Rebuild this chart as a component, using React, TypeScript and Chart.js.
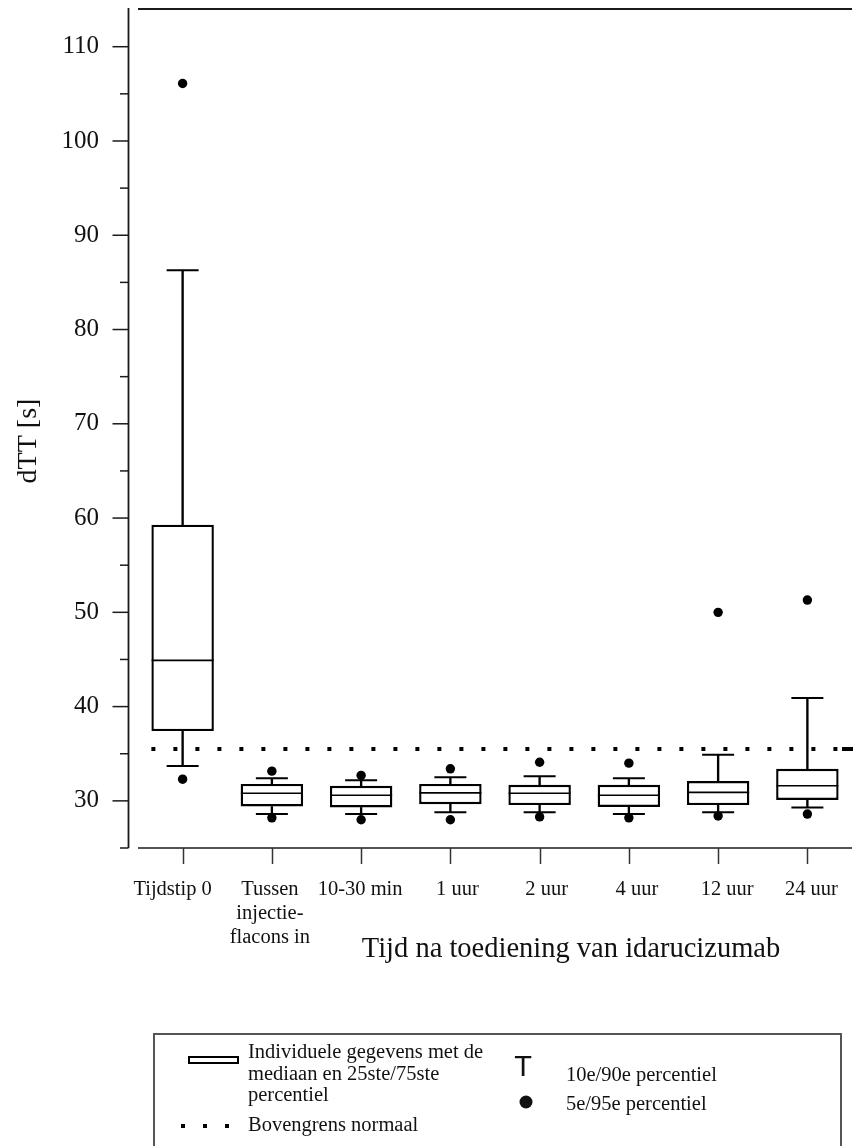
import React, { useEffect, useRef } from "react";
import { Chart, registerables } from "chart.js";

Chart.register(...registerables);

// ---- data ----
const categories: (string | string[])[] = [
  "Tijdstip 0",
  ["Tussen", "injectie-", "flacons in"],
  "10-30 min",
  "1 uur",
  "2 uur",
  "4 uur",
  "12 uur",
  "24 uur",
];
const p5 = [32.3, 28.2, 28.0, 28.0, 28.3, 28.2, 28.4, 28.6];
const p10 = [33.7, 28.6, 28.6, 28.8, 28.8, 28.6, 28.8, 29.3];
const q1 = [37.4, 29.4, 29.3, 29.65, 29.55, 29.35, 29.55, 30.1];
const median = [44.9, 30.8, 30.6, 30.85, 30.8, 30.6, 30.9, 31.6];
const q3 = [59.3, 31.8, 31.6, 31.8, 31.7, 31.7, 32.1, 33.4];
const p90 = [86.3, 32.4, 32.2, 32.5, 32.6, 32.4, 34.9, 40.9];
const p95 = [106.1, 33.15, 32.7, 33.4, 34.1, 34.0, 50.0, 51.3];
const upperNormal = 35.5;
const yMajorTicks = [30, 40, 50, 60, 70, 80, 90, 100, 110];
const yMinorTicks = [25, 35, 45, 55, 65, 75, 85, 95, 105];
const yTitle = "dTT [s]";
const xTitle = "Tijd na toediening van idarucizumab";
const legendBoxText = ["Individuele gegevens met de", "mediaan en 25ste/75ste", "percentiel"];
const legendLineText = "Bovengrens normaal";
const legendWhiskerText = "10e/90e percentiel";
const legendDotText = "5e/95e percentiel";

// ---- styling ----
const SERIF = '"Liberation Serif", "Times New Roman", serif';
const SANS = '"Liberation Sans", Arial, sans-serif';
// small horizontal nudges of the category labels, as in the original typesetting
const LABEL_NUDGE = [-10, -2, -1, 7, 7, 8, 9, 4];

export default function App() {
  const ref = useRef<HTMLCanvasElement>(null);

  useEffect(() => {
    const canvas = ref.current;
    if (!canvas) return;

    const decor = {
      id: "decor",
      beforeDatasetsDraw(chart: any) {
        const { ctx, chartArea, scales } = chart;
        const x = scales.x;
        const y = scales.y;
        ctx.save();
        ctx.strokeStyle = "#1a1a1a";
        ctx.lineCap = "butt";
        // top frame line
        ctx.lineWidth = 2;
        ctx.beginPath();
        ctx.moveTo(chartArea.left, chartArea.top);
        ctx.lineTo(chartArea.right, chartArea.top);
        ctx.stroke();
        // x axis line
        ctx.lineWidth = 1.6;
        ctx.beginPath();
        ctx.moveTo(chartArea.left, chartArea.bottom);
        ctx.lineTo(chartArea.right, chartArea.bottom);
        ctx.stroke();
        // x ticks
        ctx.lineWidth = 1.5;
        ctx.strokeStyle = "#333";
        categories.forEach((_, i) => {
          const px = Math.round(x.getPixelForValue(i)) + 0.5;
          ctx.beginPath();
          ctx.moveTo(px, chartArea.bottom);
          ctx.lineTo(px, chartArea.bottom + 16);
          ctx.stroke();
        });
        // y axis line (detached)
        const ax = chartArea.left - 9.5;
        ctx.strokeStyle = "#1a1a1a";
        ctx.lineWidth = 1.8;
        ctx.beginPath();
        ctx.moveTo(ax, chartArea.top - 1);
        ctx.lineTo(ax, y.getPixelForValue(25));
        ctx.stroke();
        ctx.lineWidth = 1.5;
        yMajorTicks.forEach((v) => {
          const py = y.getPixelForValue(v);
          ctx.beginPath();
          ctx.moveTo(ax - 16, py);
          ctx.lineTo(ax, py);
          ctx.stroke();
        });
        yMinorTicks.forEach((v) => {
          const py = y.getPixelForValue(v);
          ctx.beginPath();
          ctx.moveTo(ax - 8.5, py);
          ctx.lineTo(ax, py);
          ctx.stroke();
        });
        // upper normal dotted line
        const py = y.getPixelForValue(upperNormal);
        const step = x.getPixelForValue(1) - x.getPixelForValue(0);
        const startX = x.getPixelForValue(0) - step * 0.35;
        ctx.strokeStyle = "#000";
        ctx.lineWidth = 4;
        ctx.setLineDash([4, 18]);
        ctx.beginPath();
        ctx.moveTo(startX, py);
        ctx.lineTo(chartArea.right, py);
        ctx.stroke();
        ctx.setLineDash([]);
        ctx.beginPath();
        ctx.moveTo(chartArea.right - 10, py);
        ctx.lineTo(chartArea.right + 1, py);
        ctx.stroke();
        ctx.restore();
      },
      afterDraw(chart: any) {
        const { ctx, chartArea, scales } = chart;
        const x = scales.x;
        const y = scales.y;
        const ax = chartArea.left - 9.5;
        ctx.save();
        ctx.fillStyle = "#111";
        // y tick labels
        ctx.font = `25px ${SERIF}`;
        ctx.textAlign = "right";
        ctx.textBaseline = "middle";
        yMajorTicks.forEach((v) => {
          ctx.fillText(String(v), ax - 29.5, y.getPixelForValue(v));
        });
        // x tick labels
        ctx.font = `20.5px ${SERIF}`;
        ctx.textAlign = "center";
        ctx.textBaseline = "alphabetic";
        categories.forEach((lab, i) => {
          const px = x.getPixelForValue(i) + (LABEL_NUDGE[i] || 0);
          const lines = Array.isArray(lab) ? lab : [lab];
          lines.forEach((ln, k) => {
            ctx.fillText(ln, px, chartArea.bottom + 47 + k * 24);
          });
        });
        // axis titles
        ctx.font = `28.5px ${SERIF}`;
        ctx.textAlign = "center";
        ctx.fillText(xTitle, 571, 957);
        ctx.save();
        ctx.translate(36, 441);
        ctx.rotate(-Math.PI / 2);
        ctx.font = `28px ${SERIF}`;
        ctx.fillText(yTitle, 0, 0);
        ctx.restore();

        // legend
        ctx.strokeStyle = "#555";
        ctx.lineWidth = 2;
        ctx.strokeRect(154, 1034, 687, 140);
        ctx.strokeStyle = "#000";
        ctx.fillStyle = "#fff";
        ctx.lineWidth = 2;
        ctx.fillRect(189, 1057, 49, 6);
        ctx.strokeRect(189, 1057, 49, 6);
        ctx.fillStyle = "#111";
        ctx.font = `20.5px ${SERIF}`;
        ctx.textAlign = "left";
        const base = [1058, 1079.5, 1101];
        legendBoxText.forEach((t, k) => ctx.fillText(t, 248, base[k]));
        ctx.fillText(legendLineText, 248, 1131);
        ctx.lineWidth = 4;
        ctx.setLineDash([4, 18]);
        ctx.beginPath();
        ctx.moveTo(181, 1126);
        ctx.lineTo(232, 1126);
        ctx.stroke();
        ctx.setLineDash([]);
        ctx.font = `29px ${SANS}`;
        ctx.textAlign = "center";
        ctx.fillText("T", 523, 1076);
        ctx.beginPath();
        ctx.arc(526, 1102, 6.5, 0, Math.PI * 2);
        ctx.fill();
        ctx.font = `20.5px ${SERIF}`;
        ctx.textAlign = "left";
        ctx.fillText(legendWhiskerText, 566, 1081);
        ctx.fillText(legendDotText, 566, 1110);
        ctx.restore();
      },
    };

    const chart = new Chart(canvas, {
      type: "bar",
      data: {
        labels: categories as any,
        datasets: [
          {
            type: "line",
            label: "95e percentiel",
            data: p95,
            showLine: false,
            pointRadius: 4.7,
            pointBackgroundColor: "#000",
            pointBorderColor: "#000",
            pointBorderWidth: 0,
            order: 0,
          } as any,
          {
            type: "line",
            label: "5e percentiel",
            data: p5,
            showLine: false,
            pointRadius: 4.7,
            pointBackgroundColor: "#000",
            pointBorderColor: "#000",
            pointBorderWidth: 0,
            order: 0,
          },
          {
            type: "line",
            label: "90e percentiel",
            data: p90,
            showLine: false,
            pointStyle: "line",
            pointRadius: 16,
            pointBorderColor: "#000",
            pointBorderWidth: 2,
            order: 1,
          },
          {
            type: "line",
            label: "10e percentiel",
            data: p10,
            showLine: false,
            pointStyle: "line",
            pointRadius: 16,
            pointBorderColor: "#000",
            pointBorderWidth: 2,
            order: 1,
          },
          {
            type: "line",
            label: "mediaan",
            data: median,
            showLine: false,
            pointStyle: "line",
            pointRadius: 31,
            pointBorderColor: "#000",
            pointBorderWidth: 1.6,
            order: 2,
          },
          {
            type: "bar",
            label: "25ste/75ste percentiel",
            data: q1.map((v, i) => [v, q3[i]]),
            backgroundColor: "#fff",
            borderColor: "#000",
            borderWidth: 2.4,
            borderSkipped: false,
            barPercentage: 0.7,
            categoryPercentage: 1,
            grouped: false,
            order: 3,
          },
          {
            type: "bar",
            label: "whisker laag",
            data: p10.map((v, i) => [v, q1[i]]),
            backgroundColor: "#000",
            borderWidth: 0,
            barThickness: 1.7,
            grouped: false,
            order: 4,
          },
          {
            type: "bar",
            label: "whisker hoog",
            data: q3.map((v, i) => [v, p90[i]]),
            backgroundColor: "#000",
            borderWidth: 0,
            barThickness: 1.7,
            grouped: false,
            order: 4,
          },
        ],
      },
      options: {
        animation: false,
        responsive: false,
        maintainAspectRatio: false,
        devicePixelRatio: 1,
        layout: { autoPadding: false, padding: { left: 138, right: 6, top: 9, bottom: 298 } },
        scales: {
          x: { type: "category", offset: true, display: false },
          y: { type: "linear", min: 25, max: 114, display: false },
        },
        plugins: {
          legend: { display: false },
          tooltip: { enabled: false },
        },
        events: [],
      },
      plugins: [decor],
    });

    return () => chart.destroy();
  }, []);

  return (
    <div style={{ position: "absolute", left: 0, top: 0, width: 858, height: 1146, background: "#fff" }}>
      <canvas ref={ref} width={858} height={1146} style={{ display: "block", width: 858, height: 1146 }} />
    </div>
  );
}
